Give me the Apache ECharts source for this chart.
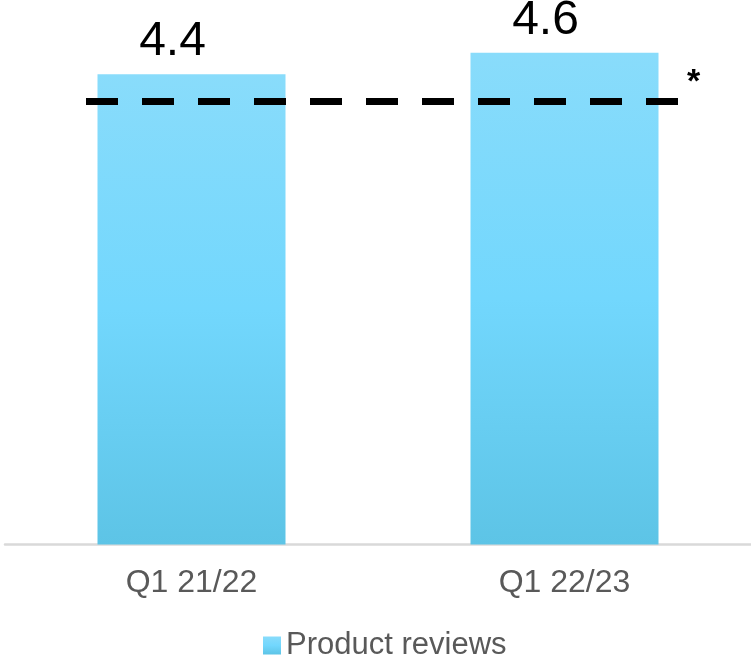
<!DOCTYPE html>
<html>
<head>
<meta charset="utf-8">
<script src="https://cdn.jsdelivr.net/npm/echarts@6/dist/echarts.min.js"></script>
<style>
  html, body { margin: 0; padding: 0; background: #fff; }
  #chart { width: 751px; height: 656px; }
</style>
</head>
<body>
<div id="chart"></div>
<script>
// Average product review score per quarter
const categories = ['Q1 21/22', 'Q1 22/23'];
const seriesName = 'Product reviews';
const reviewScores = [4.4, 4.6];
const targetScore = 4.15;   // dashed reference line
const targetMark = '*';
const yMin = 0;
const yMax = 5;

const font = 'Arial, "Liberation Sans", sans-serif';

const barGradient = new echarts.graphic.LinearGradient(0, 0, 0, 1, [
  { offset: 0, color: '#89DCFB' },
  { offset: 0.5, color: '#72D7FD' },
  { offset: 1, color: '#5DC4E6' }
]);

const chart = echarts.init(document.getElementById('chart'), null, { renderer: 'canvas' });

chart.setOption({
  animation: false,
  backgroundColor: '#ffffff',
  textStyle: { fontFamily: font },
  grid: [
    { left: 5, right: -4, top: 10, bottom: 111.5 },
    // grid holding the dashed reference line; same vertical scale as the bars
    { left: 86, right: 73, top: 10, bottom: 111.5 }
  ],
  legend: {
    data: [seriesName],
    left: 258,
    top: 625,
    icon: 'rect',
    itemWidth: 18,
    itemHeight: 18,
    itemGap: 6,
    textStyle: { fontFamily: font, fontSize: 31, color: '#595959' }
  },
  xAxis: [
    {
      type: 'category',
      gridIndex: 0,
      data: categories,
      axisLine: { show: true, lineStyle: { color: '#D9D9D9', width: 2.5 } },
      axisTick: { show: false },
      axisLabel: { fontFamily: font, fontSize: 32, color: '#595959', margin: 23 }
    },
    {
      type: 'value',
      gridIndex: 1,
      min: 0,
      max: 1,
      show: false
    }
  ],
  yAxis: [
    {
      type: 'value',
      gridIndex: 0,
      min: yMin,
      max: yMax,
      show: false,
      splitLine: { show: false }
    },
    {
      type: 'value',
      gridIndex: 1,
      min: yMin,
      max: yMax,
      show: false,
      splitLine: { show: false }
    }
  ],
  series: [
    {
      name: seriesName,
      type: 'bar',
      xAxisIndex: 0,
      yAxisIndex: 0,
      data: reviewScores,
      barWidth: 188,
      itemStyle: { color: barGradient },
      label: {
        show: true,
        position: 'top',
        distance: 8,
        offset: [-19, 0],
        fontFamily: font,
        fontSize: 48,
        color: '#000000',
        formatter: p => p.value.toFixed(1)
      },
      z: 2
    },
    {
      name: 'target',
      type: 'line',
      xAxisIndex: 1,
      yAxisIndex: 1,
      data: [],
      markLine: {
        silent: true,
        symbol: ['none', 'none'],
        lineStyle: { color: '#000000', width: 7, type: [32, 24], cap: 'butt' },
        label: {
          show: true,
          position: 'end',
          distance: 9,
          offset: [0, -18],
          formatter: targetMark,
          fontFamily: font,
          fontSize: 34,
          fontWeight: 'bold',
          color: '#000000'
        },
        data: [{ yAxis: targetScore }]
      },
      z: 3
    }
  ]
});
</script>
</body>
</html>
